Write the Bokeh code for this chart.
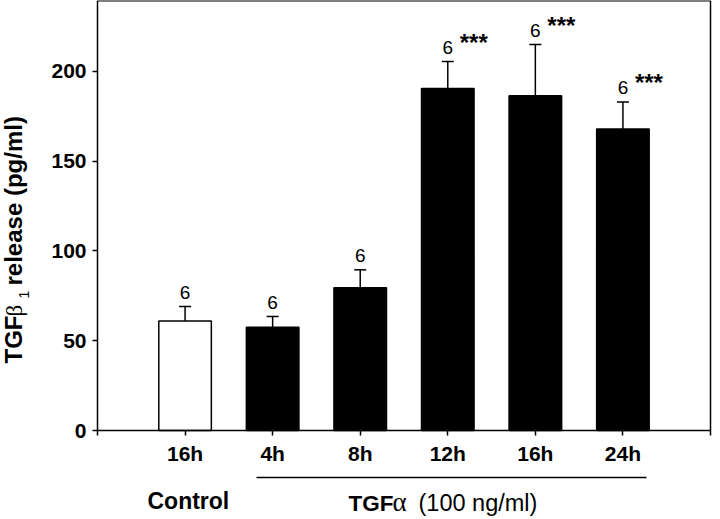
import math
from bokeh.plotting import figure
from bokeh.models import (ColumnDataSource, FixedTicker, Whisker, TeeHead, Label,
                          Arrow, Range1d, LinearAxis)
from bokeh.core.properties import value
from bokeh.embed import file_html
from bokeh.resources import INLINE

# ---- data ----
tick_labels = ["16h", "4h", "8h", "12h", "16h", "24h"]
groups = ["Control", "TGFα", "TGFα", "TGFα", "TGFα", "TGFα"]
means = [61.0, 57.5, 79.5, 190.5, 186.5, 168.0]
errors = [8.0, 6.0, 10.0, 15.0, 28.5, 15.0]
n_labels = ["6", "6", "6", "6", "6", "6"]
signif = ["", "", "", "***", "***", "***"]
y_ticks = [0, 50, 100, 150, 200]
Y_TOP = 239.5
X_END = 7

positions = list(range(1, len(means) + 1))
uppers = [m + e for m, e in zip(means, errors)]
fills = ["white" if g == "Control" else "black" for g in groups]

src = ColumnDataSource(dict(x=positions, top=means, upper=uppers,
                            fill=fills, n=n_labels, sig=signif))

FONT = "Liberation Sans"
SERIF = "Liberation Serif"

W, H = 720, 519
X0PX, XSCALE = 97.0, 87.571      # pixel of x=0, px per unit
Y0PX, YSCALE = 430.0, 1.7953     # pixel of y=0, px per unit

p = figure(width=W, height=H, output_backend="svg", toolbar_location=None,
           x_range=Range1d(-X0PX / XSCALE, (W - X0PX) / XSCALE),
           y_range=Range1d(-(H - Y0PX) / YSCALE, Y0PX / YSCALE),
           min_border=0, x_axis_location="below", y_axis_location="left")
p.grid.visible = False
p.outline_line_color = None
p.background_fill_color = "white"
p.border_fill_color = "white"

p.vbar(x="x", top="top", width=0.6, fill_color="fill", line_color="black",
       line_width=1.5, source=src)

p.add_layout(Whisker(source=src, base="x", lower="top", upper="upper",
                     upper_head=TeeHead(size=12, line_width=1.5, line_color="black"),
                     lower_head=None, line_width=1.5, line_color="black"))

p.text(x="x", y="upper", text="n", source=src, text_align="center",
       text_baseline="alphabetic", y_offset=-14, text_font=value(FONT),
       text_font_size="19px", text_color="black")
p.text(x="x", y="upper", text="sig", source=src, text_align="left",
       text_baseline="alphabetic", x_offset=12, y_offset=-19,
       text_font=value(FONT), text_font_style="bold",
       text_font_size="24px", text_color="black")

# axes (fixed at the data origin, so the frame covers the whole canvas)
xa = p.xaxis[0]
xa.fixed_location = 0
xa.bounds = (0, X_END)
xa.ticker = FixedTicker(ticks=[0] + positions + [X_END])
overrides = {0: "", X_END: ""}
for pos, lab_ in zip(positions, tick_labels):
    overrides[pos] = lab_
xa.major_label_overrides = overrides

ya = p.yaxis[0]
ya.fixed_location = 0
ya.bounds = (0, Y_TOP)
ya.ticker = FixedTicker(ticks=y_ticks)

for ax in (xa, ya):
    ax.minor_tick_line_color = None
    ax.major_tick_out = 5
    ax.major_tick_in = 0
    ax.axis_line_width = 1.5
    ax.axis_line_color = "black"
    ax.major_tick_line_width = 1.5
    ax.major_tick_line_color = "black"
    ax.major_label_text_font = FONT
    ax.major_label_text_font_style = "bold"
    ax.major_label_text_font_size = "21px"
    ax.major_label_text_color = "black"
    ax.major_label_standoff = 6

# box: right and top edges
ra = LinearAxis(fixed_location=X_END, bounds=(0, Y_TOP), ticker=FixedTicker(ticks=[]),
                axis_line_width=1.5, minor_tick_line_color=None)
p.add_layout(ra, "right")
ta = LinearAxis(fixed_location=Y_TOP, bounds=(0, X_END), ticker=FixedTicker(ticks=[]),
                axis_line_width=2, minor_tick_line_color=None)
p.add_layout(ta, "above")

def dx(px):
    return (px - X0PX) / XSCALE

def dy(py):
    return (Y0PX - py) / YSCALE

BASE_SHIFT = 0.36  # em; compensates the svg baseline placement

def lab(text, px, py, size, bold=True, font=FONT, rotated=False):
    shift = BASE_SHIFT * size
    if rotated:
        px -= shift
    else:
        py -= shift
    p.add_layout(Label(x=dx(px), y=dy(py), text=text, text_font=font,
                       text_font_size=f"{size}px",
                       text_font_style="bold" if bold else "normal",
                       text_align="left", text_baseline="alphabetic",
                       angle=math.pi / 2 if rotated else 0.0,
                       text_color="black"))

# y axis label (rotated, composed)
lab("TGF", 22, 363, 24, True, FONT, True)
lab("β", 22, 316, 23, False, SERIF, True)
lab("1", 29, 298, 14, False, FONT, True)
lab("release (pg/ml)", 22, 285, 24, True, FONT, True)

# group labels under x axis
lab("Control", 147, 509, 23, True)
lab("TGF", 348, 511, 22.5, True)
lab("α", 392, 511, 27, False, SERIF)
lab("(100 ng/ml)", 418, 511, 23.5, False)

p.add_layout(Arrow(x_start=dx(256), y_start=dy(477), x_end=dx(646), y_end=dy(477),
                   end=None, line_width=1.5, line_color="black"))

open("out.html", "w").write(file_html(p, INLINE))
